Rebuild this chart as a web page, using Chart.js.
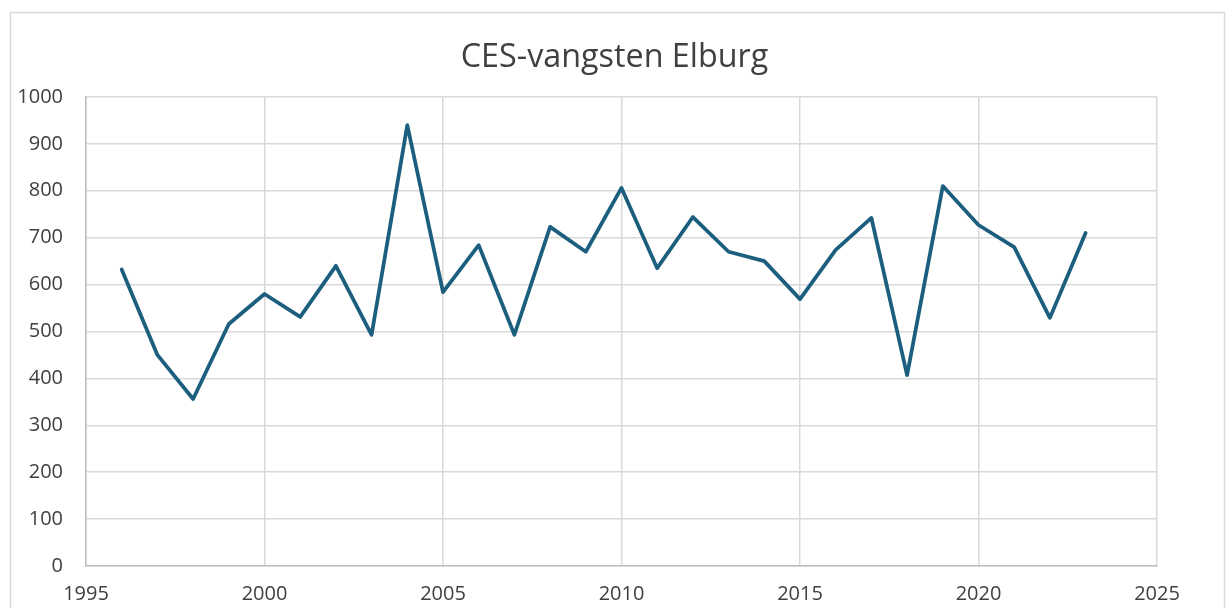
<!DOCTYPE html>
<html><head><meta charset="utf-8">
<script src="https://cdn.jsdelivr.net/npm/chart.js@4/dist/chart.umd.min.js"></script>
<style>html,body{margin:0;padding:0;background:#fff}#wrap{width:1229px;height:608px}</style>
</head><body><div id="wrap"><canvas id="c" width="1229" height="608"></canvas></div>
<script>
const years = [1996,1997,1998,1999,2000,2001,2002,2003,2004,2005,2006,2007,2008,2009,2010,2011,2012,2013,2014,2015,2016,2017,2018,2019,2020,2021,2022,2023];
const catches = [632,450,356,516,580,531,640,493,940,584,684,493,723,670,806,635,744,670,650,569,674,742,407,810,727,680,529,710];
const xTicks = [1995,2000,2005,2010,2015,2020,2025];
const yTicks = [0,100,200,300,400,500,600,700,800,900,1000];
const titleText = 'CES-vangsten Elburg';

const FONT = "'Open Sans', 'Liberation Sans', sans-serif";
const borderPlugin = {
  id:'outerBorder',
  beforeDraw(chart){
    const ctx = chart.ctx;
    ctx.save();
    ctx.fillStyle='#fff';
    ctx.fillRect(0,0,chart.width,chart.height);
    ctx.strokeStyle='#d9d9d9';
    ctx.lineWidth=1.5;
    ctx.strokeRect(10.5,12.5,1214,620);
    ctx.restore();
  }
};
new Chart(document.getElementById('c'),{
  type:'line',
  data:{datasets:[{data:years.map((y,i)=>({x:y,y:catches[i]})),borderColor:'#1b5e7d',borderWidth:3.75,borderJoinStyle:'round',borderCapStyle:'round',pointRadius:0,tension:0,fill:false,yAxisID:'y'}]},
  options:{
    responsive:false,animation:false,
    layout:{padding:0},
    plugins:{
      legend:{display:false},tooltip:{enabled:false},
      title:{display:true,text:titleText,color:'#404040',font:{family:FONT,size:32.3,weight:'normal',lineHeight:1.2},padding:{top:38.5,bottom:19.7}}
    },
    scales:{
      x:{type:'linear',min:1995,max:2025,
        afterBuildTicks(s){s.ticks=xTicks.map(v=>({value:v}));},
        afterFit(s){s.height=42;},
        grid:{color:'#d9d9d9',lineWidth:1.5,drawTicks:false},
        border:{color:'#bfbfbf',width:1.5},
        ticks:{color:'#404040',font:{family:FONT,size:20},padding:16,maxRotation:0,autoSkip:false,callback:v=>String(v)}
      },
      y:{min:0,max:1000,
        afterBuildTicks(s){s.ticks=yTicks.map(v=>({value:v}));},
        afterFit(s){s.width=86;},
        grid:{color:'#d9d9d9',lineWidth:1.5,drawTicks:false},
        border:{color:'#bfbfbf',width:1.5},
        ticks:{color:'#404040',font:{family:FONT,size:20},padding:23,callback:v=>String(v)}
      },
      yr:{position:'right',min:0,max:1000,
        afterFit(s){s.width=72;},
        grid:{display:false,drawTicks:false},
        border:{display:false},
        ticks:{display:false}
      }
    }
  },
  plugins:[borderPlugin]
});
</script></body></html>
